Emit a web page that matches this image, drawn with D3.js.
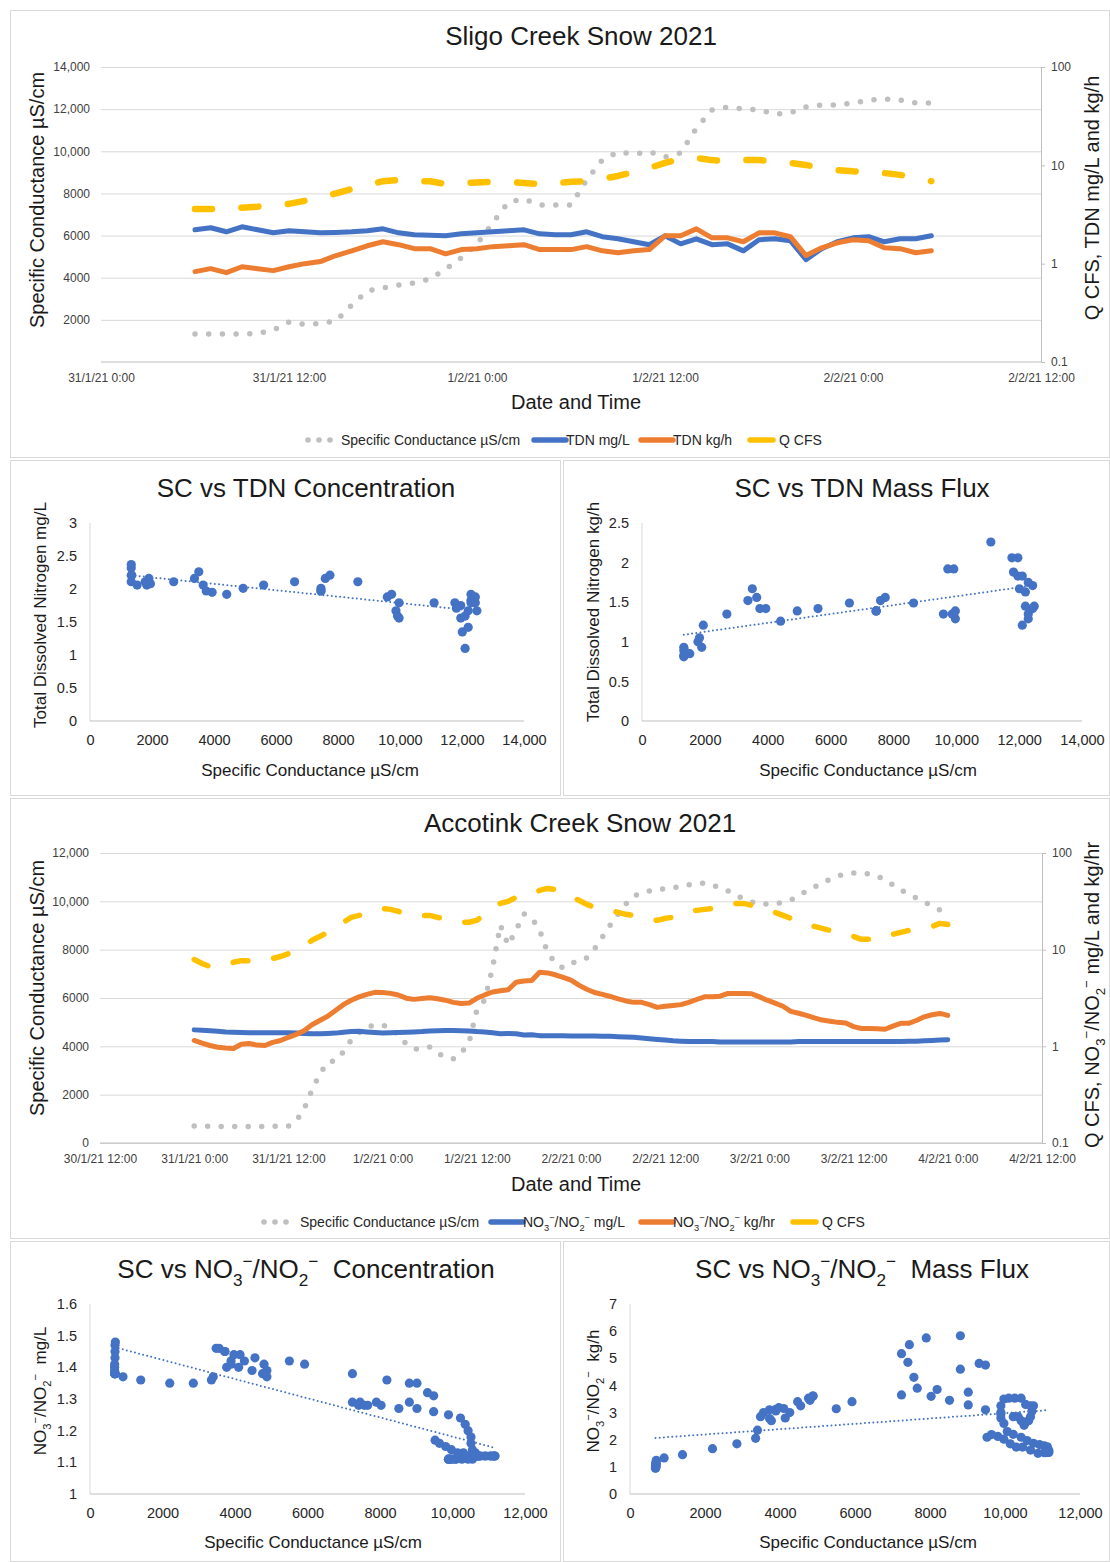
<!DOCTYPE html>
<html>
<head>
<meta charset="utf-8">
<script src="https://cdn.jsdelivr.net/npm/d3@7"></script>
<style>
  body { margin: 0; background: #fff; }
  svg { display: block; }
</style>
</head>
<body>
<svg id="chart" width="1110" height="1562"></svg>
<script>
// ---------- Sligo Creek, hourly (hours after 31/1/21 0:00) ----------
const sligoHour = [6,7,8,9,10,11,12,13,14,15,16,17,18,19,20,21,22,23,24,25,26,27,28,29,30,31,32,33,34,35,36,37,38,39,40,41,42,43,44,45,46,47,48,49,50,51,52,53];
const sligoSC = [1330,1330,1330,1330,1350,1520,1900,1780,1830,1950,2700,3370,3510,3650,3750,3940,4410,4940,5600,6600,7590,7740,7450,7450,7450,8640,9590,9970,9870,9970,9730,9920,11100,11960,12100,12010,11960,11770,11820,12100,12200,12200,12290,12430,12480,12430,12290,12290];
const sligoTDNmg = [2.21,2.32,2.11,2.37,2.21,2.06,2.16,2.11,2.06,2.08,2.11,2.16,2.26,2.06,1.97,1.95,1.92,2.01,2.06,2.11,2.16,2.21,2.01,1.97,1.97,2.11,1.88,1.79,1.67,1.56,1.92,1.59,1.79,1.56,1.59,1.35,1.75,1.79,1.71,1.10,1.42,1.67,1.83,1.88,1.67,1.79,1.79,1.92];
const sligoTDNkg = [0.83,0.89,0.81,0.93,0.89,0.85,0.93,1.00,1.05,1.21,1.35,1.52,1.67,1.56,1.42,1.42,1.26,1.39,1.42,1.49,1.52,1.56,1.39,1.39,1.39,1.49,1.35,1.29,1.35,1.39,1.92,1.92,2.26,1.83,1.83,1.67,2.06,2.06,1.88,1.21,1.45,1.63,1.75,1.71,1.45,1.42,1.29,1.35];
const sligoQ = [3.6,3.6,3.6,3.7,3.8,3.95,4.05,4.35,4.65,5.2,5.75,6.3,6.9,7.1,6.9,6.9,6.45,6.6,6.7,6.8,6.8,6.6,6.45,6.6,6.8,6.9,7.3,7.8,8.55,9.4,10.6,11.6,11.9,11.3,11.0,11.3,11.3,11.0,10.6,10.1,9.4,8.95,8.7,8.55,8.35,8.0,7.45,6.9];

// ---------- Accotink Creek, hourly (hours after 31/1/21 0:00) ----------
const accoHour = [0,1,2,3,4,5,6,7,8,9,10,11,12,13,14,15,16,17,18,19,20,21,22,23,24,25,26,27,28,29,30,31,32,33,34,35,36,37,38,39,40,41,42,43,44,45,46,47,48,49,50,51,52,53,54,55,56,57,58,59,60,61,62,63,64,65,66,67,68,69,70,71,72,73,74,75,76,77,78,79,80,81,82,83,84,85,86,87,88,89,90,91,92,93,94,95,96];
const accoSC = [700,690,690,690,680,680,680,680,680,690,690,690,700,
  910,1400,2200,2850,3350,3400,3770,4260,4550,4800,
  4880,4880,4760,4470,4100,3890,3890,3970,3720,3560,
  3480,3720,4140,5500,5920,7240,9020,8190,8810,9480,
  9310,8810,7900,7450,7240,7410,7570,7660,8030,8520,
  9020,9480,9890,10220,10350,10430,10510,10510,10550,10630,
  10680,10720,10760,10680,10550,10430,10260,10100,9970,9890,
  9890,9890,9970,10060,10220,10430,10590,10760,10920,11050,
  11130,11170,11170,11130,11050,10880,10680,10470,10300,10140,
  9970,9810,9640,9520];
const accoNO3mg = [1.48,1.47,1.45,1.43,1.41,1.40,1.39,1.38,1.38,1.38,1.38,1.38,1.38,
  1.37,1.36,1.35,1.35,1.36,1.37,1.40,1.42,1.43,1.41,
  1.39,1.37,1.38,1.39,1.40,1.41,1.42,1.44,1.45,1.46,
  1.46,1.45,1.44,1.42,1.41,1.38,1.35,1.36,1.35,1.31,
  1.32,1.29,1.29,1.29,1.29,1.28,1.28,1.28,1.28,1.27,
  1.27,1.26,1.25,1.24,1.22,1.20,1.18,1.16,1.14,1.13,
  1.12,1.12,1.12,1.12,1.11,1.11,1.11,1.11,1.11,1.11,
  1.11,1.11,1.11,1.11,1.12,1.12,1.12,1.12,1.12,1.12,
  1.12,1.12,1.12,1.12,1.12,1.12,1.12,1.12,1.13,1.13,
  1.14,1.15,1.16,1.17];
const accoNO3kg = [1.15,1.08,1.02,0.98,0.96,0.95,1.05,1.07,1.03,1.02,1.10,1.15,1.24,
  1.33,1.45,1.67,1.85,2.05,2.35,2.70,3.00,3.25,3.45,
  3.62,3.60,3.53,3.40,3.15,3.06,3.12,3.18,3.10,3.00,
  2.85,2.78,2.80,3.14,3.40,3.65,3.75,3.85,4.60,4.75,
  4.81,5.83,5.75,5.50,5.17,4.85,4.30,3.90,3.60,3.45,
  3.28,3.10,2.95,2.85,2.85,2.70,2.53,2.60,2.65,2.70,
  2.85,3.05,3.25,3.25,3.30,3.53,3.53,3.53,3.50,3.25,
  3.00,2.80,2.60,2.30,2.20,2.09,1.97,1.87,1.82,1.77,
  1.74,1.60,1.53,1.53,1.52,1.50,1.62,1.73,1.73,1.85,
  2.02,2.12,2.19,2.09];
const accoQ = [7.9,7.2,6.7,6.7,6.9,7.4,7.7,7.7,7.7,7.7,8.1,8.5,9.1,
  9.8,10.8,12.5,13.7,15.1,16.6,19.2,21.6,22.6,24.3,
  25.5,26.7,26.1,24.9,23.2,22.6,22.6,22.6,21.6,20.6,
  19.6,19.2,19.2,20.1,23.2,26.7,30.1,31.6,34.8,36.3,
  38.1,41,43,42,39,35.6,32.4,29.4,27.4,26.1,
  25.5,24.3,23.2,22.6,21.6,20.6,20.1,21.1,21.6,23.2,
  24.9,25.5,26.1,26.7,28.0,29.4,30.1,30.1,28.7,27.4,
  26.1,24.3,22.6,21.1,19.6,18.7,17.4,16.6,15.8,15.1,
  14.4,13.7,12.8,12.8,12.8,13.4,14.4,15.1,15.8,16.2,
  16.6,17.4,18.7,18.2];

// ---------- tick values ----------
const sligoXTicks = [0,12,24,36,48,60];
const accoXTicks = [-12,0,12,24,36,48,60,72,84,96,108];
const sligoLeftTicks = [2000,4000,6000,8000,10000,12000,14000];
const sligoGridTicks = [2000,4000,6000,8000,10000,12000,14000];
const accoLeftTicks = [0,2000,4000,6000,8000,10000,12000];
const logTicks = [0.1,1,10,100];
const scX14Ticks = [0,2000,4000,6000,8000,10000,12000,14000];
const scX12Ticks = [0,2000,4000,6000,8000,10000,12000];
const tdnMgTicks = [0,0.5,1,1.5,2,2.5,3];
const tdnKgTicks = [0,0.5,1,1.5,2,2.5];
const no3MgTicks = [1,1.1,1.2,1.3,1.4,1.5,1.6];
const no3KgTicks = [0,1,2,3,4,5,6,7];

// ---------- text ----------
const NO = [{t:'NO'},{t:'3',s:'sub'},{t:'\u2212',s:'sup'},{t:'/NO'},{t:'2',s:'sub'},{t:'\u2212',s:'sup'}];
const scLabel = 'Specific Conductance \u00b5S/cm';
const sligoLegend = [scLabel, 'TDN mg/L', 'TDN kg/h', 'Q CFS'];
const accoLegend = [scLabel, [...NO, {t:' mg/L'}], [...NO, {t:' kg/hr'}], 'Q CFS'];

// ---------- drawing ----------
const FONT = '"Liberation Sans", Arial, Helvetica, sans-serif';
const C = { blue:'#4472C4', orange:'#ED7D31', gold:'#FFC000', dots:'#BFBFBF',
            grid:'#D9D9D9', axis:'#BFBFBF', tick:'#404040', text:'#1a1a1a', frame:'#D9D9D9' };
const svg = d3.select('#chart').attr('font-family', FONT);
const hourToDate = h => new Date(2021, 0, 31, h);
const fmtDate = d3.timeFormat('%-d/%-m/%y %-H:%M');
const fmtNum = v => v >= 10000 ? d3.format(',')(v) : String(v);

// chart-area frames
[[10,10,1099,447],[10,460,550,335],[563,460,546,335],[10,798,1099,440],[10,1241,550,320],[563,1241,546,320]]
  .forEach(([x,y,w,h]) => svg.append('rect').attr('x',x+0.5).attr('y',y+0.5).attr('width',w).attr('height',h)
    .attr('fill','#fff').attr('stroke',C.frame));

// text with sub/superscripts
function richText(sel, parts, fs) {
  let cur = 0;
  parts.forEach(p => {
    const target = p.s === 'sub' ? 0.3 * fs : p.s === 'sup' ? -0.42 * fs : 0;
    sel.append('tspan').attr('dy', target - cur).attr('font-size', p.s ? fs * 0.66 : fs).text(p.t);
    cur = target;
  });
  return sel;
}
function addText(x, y, content, fs, opts = {}) {
  const t = svg.append('text')
    .attr('transform', `translate(${x},${y})` + (opts.rotate ? ` rotate(${opts.rotate})` : ''))
    .attr('text-anchor', opts.anchor || 'middle')
    .attr('fill', opts.fill || C.text)
    .attr('font-size', fs)
    .style('white-space', 'pre');
  if (typeof content === 'string') t.text(content); else richText(t, content, fs);
  return t;
}

function styleAxis(a, fs, fill) {
  a.attr('font-family', FONT).attr('font-size', fs);
  a.selectAll('text').attr('fill', fill);
}

function drawTimeline(o) {
  const g = svg.append('g');
  const x = d3.scaleTime().domain([hourToDate(o.hStart), hourToDate(o.hEnd)]).range([o.x0, o.x1]);
  const yL = d3.scaleLinear().domain([0, o.leftMax]).range([o.yb, o.yt]);
  const yR = d3.scaleLog().domain([0.1, 100]).range([o.yb, o.yt]);

  g.append('g').attr('transform', `translate(${o.x0},0)`)
    .call(d3.axisLeft(yL).tickValues(o.gridTicks).tickSize(-(o.x1 - o.x0)).tickFormat(''))
    .call(a => { a.select('.domain').remove(); a.selectAll('line').attr('stroke', C.grid); });
  g.append('line').attr('x1', o.x0).attr('x2', o.x1).attr('y1', o.yb).attr('y2', o.yb).attr('stroke', C.axis);

  const ra = g.append('g').attr('transform', `translate(${o.x1},0)`)
    .call(d3.axisRight(yR).tickValues(logTicks).tickSize(4).tickSizeOuter(0).tickPadding(6).tickFormat(d => String(d)));
  ra.select('.domain').attr('stroke', C.axis);
  ra.selectAll('line').attr('stroke', C.axis);
  styleAxis(ra, 12, C.tick);

  const la = g.append('g').attr('transform', `translate(${o.x0},0)`)
    .call(d3.axisLeft(yL).tickValues(o.leftTicks).tickSize(0).tickPadding(11).tickFormat(fmtNum));
  la.select('.domain').remove();
  styleAxis(la, 12, C.tick);

  const xa = g.append('g').attr('transform', `translate(0,${o.yb})`)
    .call(d3.axisBottom(x).tickValues(o.xTicks.map(hourToDate)).tickSize(0).tickPadding(o.xPad).tickFormat(fmtDate));
  xa.select('.domain').remove();
  styleAxis(xa, 12, C.tick);

  const lineL = d3.line().x(d => x(hourToDate(d[0]))).y(d => yL(d[1]));
  const lineR = d3.line().x(d => x(hourToDate(d[0]))).y(d => yR(d[1]));
  const pairs = vals => o.hours.map((h, i) => [h, vals[i]]);

  g.append('path').attr('d', lineL(pairs(o.sc))).attr('fill', 'none').attr('stroke', C.dots)
    .attr('stroke-width', 5.5).attr('stroke-linecap', 'round').attr('stroke-dasharray', o.dotDash);
  g.append('path').attr('d', lineR(pairs(o.conc))).attr('fill', 'none').attr('stroke', C.blue)
    .attr('stroke-width', o.lw).attr('stroke-linejoin', 'round').attr('stroke-linecap', 'round');
  g.append('path').attr('d', lineR(pairs(o.flux))).attr('fill', 'none').attr('stroke', C.orange)
    .attr('stroke-width', o.lw).attr('stroke-linejoin', 'round').attr('stroke-linecap', 'round');
  g.append('path').attr('d', lineR(pairs(o.q))).attr('fill', 'none').attr('stroke', C.gold)
    .attr('stroke-width', o.qw).attr('stroke-linejoin', 'round').attr('stroke-linecap', 'round')
    .attr('stroke-dasharray', o.qDash);
}

// slots: [symbol start, symbol end, text x]
function drawLegend(y, names, slots) {
  const colors = [C.dots, C.blue, C.orange, C.gold];
  slots.forEach((s, i) => {
    if (i === 0) {
      [0, 1, 2].forEach(k => svg.append('circle').attr('cx', s[0] + k * 11).attr('cy', y).attr('r', 2.8).attr('fill', C.dots));
    } else {
      svg.append('line').attr('x1', s[0]).attr('x2', s[1]).attr('y1', y).attr('y2', y)
        .attr('stroke', colors[i]).attr('stroke-width', 5.5).attr('stroke-linecap', 'round');
    }
    addText(s[2], y + 5, names[i], 14, { anchor: 'start', fill: '#262626' });
  });
}

function drawScatter(o) {
  const g = svg.append('g');
  const x = d3.scaleLinear().domain([0, o.xMax]).range([o.x0, o.x1]);
  const y = d3.scaleLinear().domain(o.yDomain).range([o.yb, o.yt]);

  g.append('line').attr('x1', o.x0).attr('x2', o.x0).attr('y1', o.yt).attr('y2', o.yb).attr('stroke', C.grid);
  g.append('line').attr('x1', o.x0).attr('x2', o.x1).attr('y1', o.yb).attr('y2', o.yb).attr('stroke', C.axis);

  const ya = g.append('g').attr('transform', `translate(${o.x0},0)`)
    .call(d3.axisLeft(y).tickValues(o.yTicks).tickSize(0).tickPadding(13).tickFormat(d => String(d)));
  ya.select('.domain').remove();
  styleAxis(ya, 14.5, '#262626');
  const xa = g.append('g').attr('transform', `translate(0,${o.yb})`)
    .call(d3.axisBottom(x).tickValues(o.xTicks).tickSize(0).tickPadding(o.xPad).tickFormat(fmtNum));
  xa.select('.domain').remove();
  styleAxis(xa, 14.5, '#262626');

  const pts = o.xs.map((v, i) => [v, o.ys[i]]);
  g.selectAll('circle.pt').data(pts).join('circle').attr('class', 'pt')
    .attr('cx', d => x(d[0])).attr('cy', d => y(d[1])).attr('r', 4.6).attr('fill', C.blue);

  // least-squares linear trend
  const mx = d3.mean(pts, d => d[0]), my = d3.mean(pts, d => d[1]);
  const slope = d3.sum(pts, d => (d[0] - mx) * (d[1] - my)) / d3.sum(pts, d => (d[0] - mx) ** 2);
  const icpt = my - slope * mx;
  const [lo, hi] = d3.extent(pts, d => d[0]);
  g.append('line').attr('x1', x(lo)).attr('x2', x(hi)).attr('y1', y(icpt + slope * lo)).attr('y2', y(icpt + slope * hi))
    .attr('stroke', C.blue).attr('stroke-width', 2).attr('stroke-linecap', 'round').attr('stroke-dasharray', '0 4.2');
}

// ===== Sligo Creek Snow 2021 =====
addText(581, 45, 'Sligo Creek Snow 2021', 26);
drawTimeline({
  hStart: 0, hEnd: 60, x0: 101, x1: 1041, yt: 67, yb: 362, leftMax: 14000,
  leftTicks: sligoLeftTicks, gridTicks: sligoGridTicks, xTicks: sligoXTicks, xPad: 11,
  hours: sligoHour, sc: sligoSC, conc: sligoTDNmg, flux: sligoTDNkg, q: sligoQ,
  lw: 5, qw: 6.5, dotDash: '0 13.7', qDash: '17 29.5'
});
addText(576, 409, 'Date and Time', 20);
addText(44, 200, scLabel, 20, { rotate: -90 });
addText(1099, 198, 'Q CFS, TDN mg/L and kg/h', 20, { rotate: -90 });
drawLegend(440, sligoLegend, [[308, 330, 341], [534, 566, 566], [641, 673, 673], [750, 773, 779]]);

// ===== SC vs TDN =====
addText(306, 497, 'SC vs TDN Concentration', 26);
drawScatter({ x0: 90, x1: 524, yt: 523, yb: 721, xMax: 14000, yDomain: [0, 3],
  xTicks: scX14Ticks, yTicks: tdnMgTicks, xPad: 14, xs: sligoSC, ys: sligoTDNmg });
addText(310, 776, scLabel, 17);
addText(46, 615, 'Total Dissolved Nitrogen mg/L', 17, { rotate: -90 });

addText(862, 497, 'SC vs TDN Mass Flux', 26);
drawScatter({ x0: 642, x1: 1082, yt: 523, yb: 721, xMax: 14000, yDomain: [0, 2.5],
  xTicks: scX14Ticks, yTicks: tdnKgTicks, xPad: 14, xs: sligoSC, ys: sligoTDNkg });
addText(868, 776, scLabel, 17);
addText(599, 612, 'Total Dissolved Nitrogen kg/h', 17, { rotate: -90 });

// ===== Accotink Creek Snow 2021 =====
addText(580, 832, 'Accotink Creek Snow 2021', 26);
drawTimeline({
  hStart: -12, hEnd: 108, x0: 100, x1: 1042, yt: 853, yb: 1143, leftMax: 12000,
  leftTicks: accoLeftTicks, gridTicks: accoLeftTicks, xTicks: accoXTicks, xPad: 11,
  hours: accoHour, sc: accoSC, conc: accoNO3mg, flux: accoNO3kg, q: accoQ,
  lw: 5, qw: 5.5, dotDash: '0 13.5', qDash: '15 26'
});
addText(576, 1191, 'Date and Time', 20);
addText(44, 988, scLabel, 20, { rotate: -90 });
addText(1099, 995, [{t:'Q CFS, '}, ...NO, {t:' mg/L and kg/hr'}], 20, { rotate: -90 });
drawLegend(1222, accoLegend, [[264, 286, 300], [491, 523, 523], [641, 673, 673], [793, 816, 822]]);

// ===== SC vs NO3-/NO2- =====
addText(306, 1278, [{t:'SC vs '}, ...NO, {t:'\u00a0 Concentration'}], 26);
drawScatter({ x0: 90, x1: 525, yt: 1304, yb: 1494, xMax: 12000, yDomain: [1, 1.6],
  xTicks: scX12Ticks, yTicks: no3MgTicks, xPad: 14, xs: accoSC, ys: accoNO3mg });
addText(313, 1548, scLabel, 17);
addText(46, 1391, [...NO, {t:'\u00a0 mg/L'}], 17, { rotate: -90 });

addText(862, 1278, [{t:'SC vs '}, ...NO, {t:'\u00a0 Mass Flux'}], 26);
drawScatter({ x0: 630, x1: 1080, yt: 1304, yb: 1494, xMax: 12000, yDomain: [0, 7],
  xTicks: scX12Ticks, yTicks: no3KgTicks, xPad: 14, xs: accoSC, ys: accoNO3kg });
addText(868, 1548, scLabel, 17);
addText(599, 1391, [...NO, {t:'\u00a0 kg/h'}], 17, { rotate: -90 });
</script>
</body>
</html>
